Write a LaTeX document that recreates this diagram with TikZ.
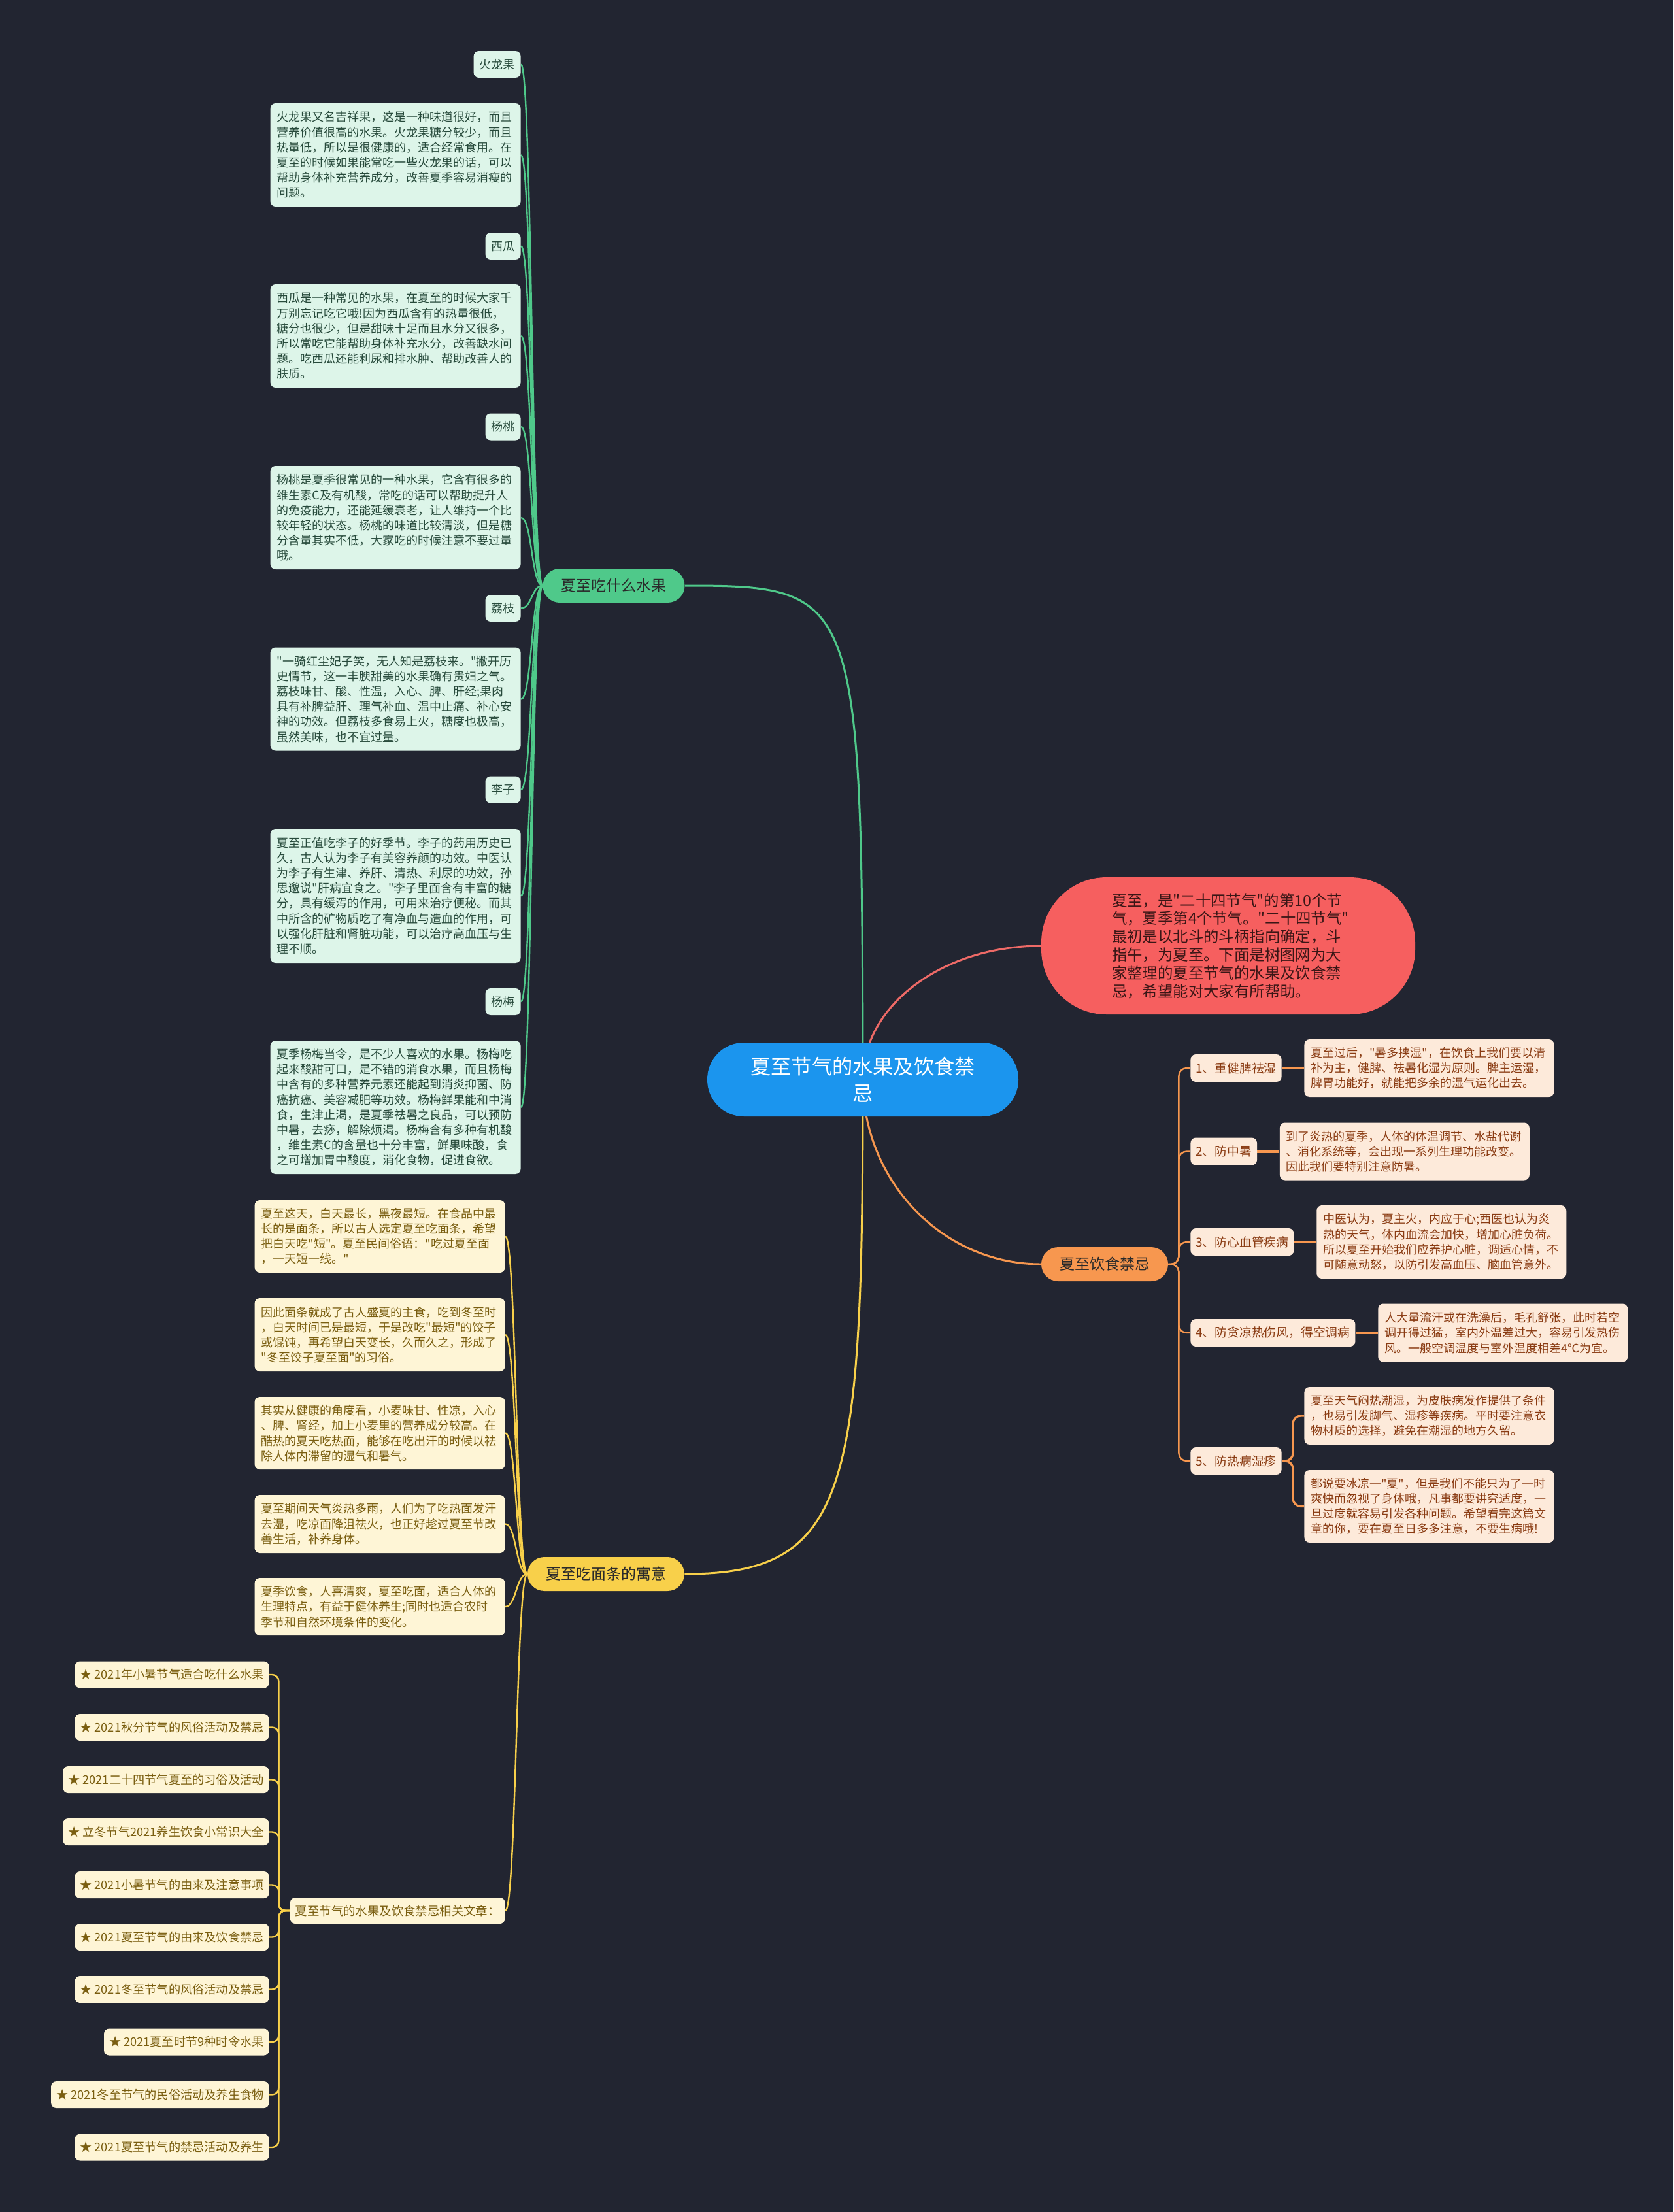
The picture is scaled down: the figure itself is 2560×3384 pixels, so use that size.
\documentclass[tikz,border=0pt]{standalone}
\usepackage{fontspec}
\setmainfont{Noto Sans CJK SC}[Ligatures=TeXOff]
\usetikzlibrary{calc}
\definecolor{bgc}{HTML}{222531}
\definecolor{rootc}{HTML}{1B95EE}
\definecolor{redc}{HTML}{F65F5F}
\definecolor{redline}{HTML}{EE6A67}
\definecolor{gmain}{HTML}{4FC98A}
\definecolor{gfill}{HTML}{DDF5E9}
\definecolor{gtext}{HTML}{274A3B}
\definecolor{ymain}{HTML}{F8D04A}
\definecolor{yfill}{HTML}{FEF5D6}
\definecolor{ytext}{HTML}{7A5E10}
\definecolor{omain}{HTML}{F7974F}
\definecolor{ofill}{HTML}{FDEADA}
\definecolor{otext}{HTML}{8A3B12}
\definecolor{maintext}{HTML}{2A2A2A}
\definecolor{redtext}{HTML}{3A1616}
\pgfdeclarelayer{back}
\pgfdeclarelayer{lines}
\pgfsetlayers{back,lines,main}
\tikzset{
  mainnode/.style={rounded corners=13pt, minimum height=26pt, inner xsep=14pt, inner ysep=0pt, text=maintext, font=\fontsize{11.5pt}{13pt}\selectfont},
  leaf/.style={rounded corners=4pt, inner xsep=5pt, inner ysep=0pt, text width=181.5pt, align=left, font=\fontsize{9pt}{11.6pt}\selectfont},
  gleaf/.style={leaf, fill=gfill, text=gtext},
  yleaf/.style={leaf, fill=yfill, text=ytext},
  oleaf/.style={leaf, fill=ofill, text=otext, text width=181pt},
  glabel/.style={fill=gfill, text=gtext, rounded corners=4pt, inner xsep=4.5pt, inner ysep=0pt, minimum height=20.5pt, font=\fontsize{9pt}{11pt}\selectfont, anchor=east},
  olabel/.style={fill=ofill, text=otext, rounded corners=4pt, inner xsep=4pt, inner ysep=0pt, minimum height=21pt, font=\fontsize{9.4pt}{11pt}\selectfont, anchor=west},
  ritem/.style={fill=yfill, text=ytext, rounded corners=4pt, inner xsep=4pt, inner ysep=0pt, minimum height=20.5pt, font=\fontsize{9.1pt}{11pt}\selectfont, anchor=east},
  gline/.style={draw=gmain, line width=1.2pt},
  yline/.style={draw=ymain, line width=1.2pt},
  oline/.style={draw=omain, line width=1.2pt},
}
\begin{document}
\begin{tikzpicture}[x=0.5pt, y=-0.5pt]
\useasboundingbox (0,0) rectangle (2560,3384);
\begin{pgfonlayer}{back}
\fill[bgc] (0,0) rectangle (2560,3384);
\end{pgfonlayer}

% root and main branches
\node[fill=rootc, text=white, rounded corners=28pt, minimum width=238pt, minimum height=56.5pt, inner sep=0pt, align=center, font=\fontsize{15.6pt}{20.8pt}\selectfont] (root) at (1320,1651.5) {夏至节气的水果及饮食禁\\忌};
\node[fill=redc, text=redtext, rounded corners=50pt, text width=178pt, inner xsep=54pt, inner ysep=0pt, minimum height=105pt, align=left, font=\fontsize{11.7pt}{13.9pt}\selectfont] (intro) at (1879,1447) {夏至，是"二十四节气"的第10个节\\气，夏季第4个节气。"二十四节气"\\最初是以北斗的斗柄指向确定，斗\\指午，为夏至。下面是树图网为大\\家整理的夏至节气的水果及饮食禁\\忌，希望能对大家有所帮助。};
\node[mainnode, fill=gmain] (gm) at (939,896) {夏至吃什么水果};
\node[mainnode, fill=ymain] (ym) at (927,2408) {夏至吃面条的寓意};
\node[mainnode, fill=omain] (om) at (1690,1934) {夏至饮食禁忌};

% green branch
\node[glabel] (g1) at (797,98.5) {火龙果};
\node[gleaf, minimum height=79pt, anchor=east] (g1t) at (797,237) {火龙果又名吉祥果，这是一种味道很好，而且\\营养价值很高的水果。火龙果糖分较少，而且\\热量低，所以是很健康的，适合经常食用。在\\夏至的时候如果能常吃一些火龙果的话，可以\\帮助身体补充营养成分，改善夏季容易消瘦的\\问题。};
\node[glabel] (g2) at (797,376.5) {西瓜};
\node[gleaf, minimum height=79pt, anchor=east] (g2t) at (797,514) {西瓜是一种常见的水果，在夏至的时候大家千\\万别忘记吃它哦!因为西瓜含有的热量很低，\\糖分也很少，但是甜味十足而且水分又很多，\\所以常吃它能帮助身体补充水分，改善缺水问\\题。吃西瓜还能利尿和排水肿、帮助改善人的\\肤质。};
\node[glabel] (g3) at (797,653) {杨桃};
\node[gleaf, minimum height=79pt, anchor=east] (g3t) at (797,792) {杨桃是夏季很常见的一种水果，它含有很多的\\维生素C及有机酸，常吃的话可以帮助提升人\\的免疫能力，还能延缓衰老，让人维持一个比\\较年轻的状态。杨桃的味道比较清淡，但是糖\\分含量其实不低，大家吃的时候注意不要过量\\哦。};
\node[glabel] (g4) at (797,930.5) {荔枝};
\node[gleaf, minimum height=79pt, anchor=east] (g4t) at (797,1069.5) {"一骑红尘妃子笑，无人知是荔枝来。"撇开历\\史情节，这一丰腴甜美的水果确有贵妇之气。\\荔枝味甘、酸、性温，入心、脾、肝经;果肉\\具有补脾益肝、理气补血、温中止痛、补心安\\神的功效。但荔枝多食易上火，糖度也极高，\\虽然美味，也不宜过量。};
\node[glabel] (g5) at (797,1208) {李子};
\node[gleaf, minimum height=102.5pt, anchor=east] (g5t) at (797,1370.5) {夏至正值吃李子的好季节。李子的药用历史已\\久，古人认为李子有美容养颜的功效。中医认\\为李子有生津、养肝、清热、利尿的功效，孙\\思邈说"肝病宜食之。"李子里面含有丰富的糖\\分，具有缓泻的作用，可用来治疗便秘。而其\\中所含的矿物质吃了有净血与造血的作用，可\\以强化肝脏和肾脏功能，可以治疗高血压与生\\理不顺。};
\node[glabel] (g6) at (797,1532.5) {杨梅};
\node[gleaf, minimum height=102pt, anchor=east] (g6t) at (797,1694) {夏季杨梅当令，是不少人喜欢的水果。杨梅吃\\起来酸甜可口，是不错的消食水果，而且杨梅\\中含有的多种营养元素还能起到消炎抑菌、防\\癌抗癌、美容减肥等功效。杨梅鲜果能和中消\\食，生津止渴，是夏季祛暑之良品，可以预防\\中暑，去痧，解除烦渴。杨梅含有多种有机酸\\，维生素C的含量也十分丰富，鲜果味酸，食\\之可增加胃中酸度，消化食物，促进食欲。};

% yellow branch
\node[yleaf, minimum height=55.5pt, anchor=east] (y1) at (773,1891.5) {夏至这天，白天最长，黑夜最短。在食品中最\\长的是面条，所以古人选定夏至吃面条，希望\\把白天吃"短"。夏至民间俗语："吃过夏至面\\，一天短一线。"};
\node[yleaf, minimum height=56pt, anchor=east] (y2) at (773,2042) {因此面条就成了古人盛夏的主食，吃到冬至时\\，白天时间已是最短，于是改吃"最短"的饺子\\或馄饨，再希望白天变长，久而久之，形成了\\"冬至饺子夏至面"的习俗。};
\node[yleaf, minimum height=55.5pt, anchor=east] (y3) at (773,2192.5) {其实从健康的角度看，小麦味甘、性凉，入心\\、脾、肾经，加上小麦里的营养成分较高。在\\酷热的夏天吃热面，能够在吃出汗的时候以祛\\除人体内滞留的湿气和暑气。};
\node[yleaf, minimum height=44.5pt, anchor=east] (y4) at (773,2331.5) {夏至期间天气炎热多雨，人们为了吃热面发汗\\去湿，吃凉面降沮祛火，也正好趁过夏至节改\\善生活，补养身体。};
\node[yleaf, minimum height=44pt, anchor=east] (y5) at (773,2458) {夏季饮食，人喜清爽，夏至吃面，适合人体的\\生理特点，有益于健体养生;同时也适合农时\\季节和自然环境条件的变化。};
\node[fill=yfill, text=ytext, rounded corners=4pt, inner xsep=4pt, inner ysep=0pt, minimum height=20pt, font=\fontsize{9.2pt}{11pt}\selectfont, anchor=east] (rel) at (773,2923) {夏至节气的水果及饮食禁忌相关文章：};
\node[ritem] (r1) at (412,2562) {★ 2021年小暑节气适合吃什么水果};
\node[ritem] (r2) at (412,2642.5) {★ 2021秋分节气的风俗活动及禁忌};
\node[ritem] (r3) at (412,2722.5) {★ 2021二十四节气夏至的习俗及活动};
\node[ritem] (r4) at (412,2802.5) {★ 立冬节气2021养生饮食小常识大全};
\node[ritem] (r5) at (412,2883.5) {★ 2021小暑节气的由来及注意事项};
\node[ritem] (r6) at (412,2963.5) {★ 2021夏至节气的由来及饮食禁忌};
\node[ritem] (r7) at (412,3043.5) {★ 2021冬至节气的风俗活动及禁忌};
\node[ritem] (r8) at (412,3124) {★ 2021夏至时节9种时令水果};
\node[ritem] (r9) at (412,3204.5) {★ 2021冬至节气的民俗活动及养生食物};
\node[ritem] (r10) at (412,3285) {★ 2021夏至节气的禁忌活动及养生};

% orange branch
\node[olabel] (s1) at (1821,1634) {1、重健脾祛湿};
\node[olabel] (s2) at (1821,1761.5) {2、防中暑};
\node[olabel] (s3) at (1821,1900) {3、防心血管疾病};
\node[olabel] (s4) at (1821,2039) {4、防贪凉热伤风，得空调病};
\node[olabel] (s5) at (1821,2235) {5、防热病湿疹};
\node[oleaf, minimum height=44pt, anchor=west] (o1) at ($(s1.east)+(34,0)$) {夏至过后，"暑多挟湿"，在饮食上我们要以清\\补为主，健脾、祛暑化湿为原则。脾主运湿，\\脾胃功能好，就能把多余的湿气运化出去。};
\node[oleaf, minimum height=44pt, anchor=west] (o2) at ($(s2.east)+(34,0)$) {到了炎热的夏季，人体的体温调节、水盐代谢\\、消化系统等，会出现一系列生理功能改变。\\因此我们要特别注意防暑。};
\node[oleaf, minimum height=56pt, anchor=west] (o3) at ($(s3.east)+(34,0)$) {中医认为，夏主火，内应于心;西医也认为炎\\热的天气，体内血流会加快，增加心脏负荷。\\所以夏至开始我们应养护心脏，调适心情，不\\可随意动怒，以防引发高血压、脑血管意外。};
\node[oleaf, minimum height=44.5pt, anchor=west] (o4) at ($(s4.east)+(34,0)$) {人大量流汗或在洗澡后，毛孔舒张，此时若空\\调开得过猛，室内外温差过大，容易引发热伤\\风。一般空调温度与室外温度相差4℃为宜。};
\coordinate (s5r) at ($(s5.east)+(34,0)$);
\node[oleaf, minimum height=44pt, anchor=west] (o5a) at (s5r |- 0,2166) {夏至天气闷热潮湿，为皮肤病发作提供了条件\\，也易引发脚气、湿疹等疾病。平时要注意衣\\物材质的选择，避免在潮湿的地方久留。};
\node[oleaf, minimum height=55.5pt, anchor=west] (o5b) at (s5r |- 0,2304.5) {都说要冰凉一"夏"，但是我们不能只为了一时\\爽快而忽视了身体哦，凡事都要讲究适度，一\\旦过度就容易引发各种问题。希望看完这篇文\\章的你，要在夏至日多多注意，不要生病哦!};

% connectors
\begin{pgfonlayer}{lines}
\draw[gmain, line width=1.5pt] (root.center) .. controls (1319,905) and (1312,896) .. (gm.east);
\draw[redline, line width=1.5pt] (root.center) .. controls (1320,1538) and (1442,1447) .. (intro.west);
\draw[omain, line width=1.5pt] (root.center) .. controls (1320,1807) and (1442,1934) .. (om.west);
\draw[ymain, line width=1.5pt] (root.center) .. controls (1320,2280) and (1300,2408) .. (ym.east);
\foreach \c in {g1,g1t,g2,g2t,g3,g3t,g4,g4t,g5,g5t,g6,g6t}
  \draw[gline] (gm.west) .. controls +(-17,0) and +(17,0) .. (\c.east);
\foreach \c in {y1,y2,y3,y4,y5,rel}
  \draw[yline] (ym.west) .. controls +(-17,0) and +(17,0) .. (\c.east);
\foreach \c in {r1,r2,r3,r4,r5,r6,r7,r8,r9,r10}
  \draw[yline, rounded corners=5pt] (rel.west) -- ++(-17,0) |- (\c.east);
\foreach \c in {s1,s2,s3,s4,s5}
  \draw[oline, rounded corners=6pt] (om.east) -- ++(16,0) |- (\c.west);
\draw[oline, line width=2pt] (s1.east) -- (o1.west);
\draw[oline, line width=2pt] (s2.east) -- (o2.west);
\draw[oline, line width=2pt] (s3.east) -- (o3.west);
\draw[oline, line width=2pt] (s4.east) -- (o4.west);
\draw[oline, line width=1.6pt, rounded corners=6pt] (s5.east) -- ++(17,0) |- (o5a.west);
\draw[oline, line width=1.6pt, rounded corners=6pt] (s5.east) -- ++(17,0) |- (o5b.west);
\end{pgfonlayer}
\end{tikzpicture}
\end{document}
